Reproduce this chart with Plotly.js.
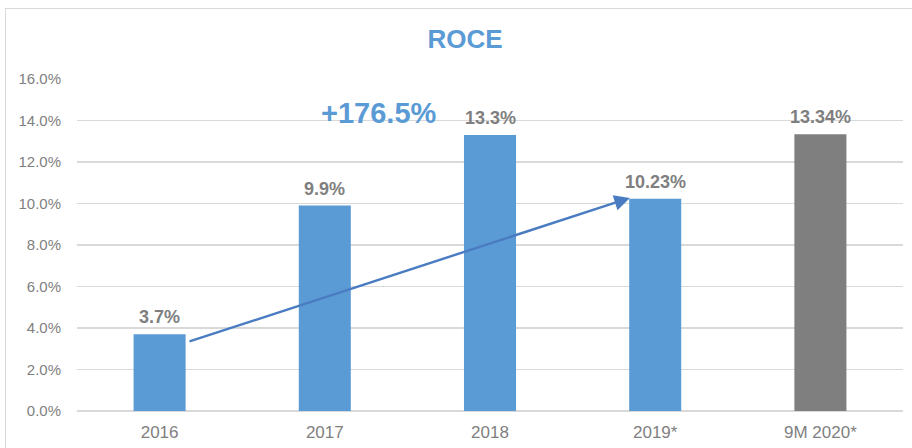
<!DOCTYPE html>
<html>
<head>
<meta charset="utf-8">
<script src="https://cdn.plot.ly/plotly-3.0.1.min.js"></script>
<style>
  html, body { margin: 0; padding: 0; background: #fff; }
  #wrap { position: relative; width: 912px; height: 448px; overflow: hidden; }
  #chart { width: 912px; height: 448px; }
  #frame { position: absolute; left: 5px; top: 8px; width: 930px; height: 470px;
           border: 1.5px solid #d9d9d9; pointer-events: none; }
</style>
</head>
<body>
<div id="wrap"><div id="chart"></div><div id="frame"></div></div>
<script>
const categories = ["2016", "2017", "2018", "2019*", "9M 2020*"];
const values = [3.7, 9.9, 13.3, 10.23, 13.34];
const labels = ["3.7%", "9.9%", "13.3%", "10.23%", "13.34%"];
const barColors = ["#5B9BD5", "#5B9BD5", "#5B9BD5", "#5B9BD5", "#7F7F7F"];
const growthText = "+176.5%";
const yTicks = [0, 2, 4, 6, 8, 10, 12, 14, 16];

const FONT = "Liberation Sans, Arial, sans-serif";

const trace = {
  type: "bar",
  x: categories.map((_, i) => i),
  y: values,
  marker: { color: barColors },
  width: 0.315,
  hoverinfo: "skip"
};

const labelAnnotations = values.map((v, i) => ({
  x: i, y: v, xref: "x", yref: "y",
  text: "<b>" + labels[i] + "</b>", showarrow: false,
  xanchor: "center", yanchor: "bottom", yshift: 5,
  font: { family: FONT, size: 18, color: "#7F7F7F" }
}));

const layout = {
  width: 912, height: 448,
  margin: { l: 77, r: 9, t: 79, b: 37 },
  paper_bgcolor: "#ffffff",
  plot_bgcolor: "#ffffff",
  showlegend: false,
  title: {
    text: "<b>ROCE</b>",
    font: { family: FONT, size: 26, color: "#5B9BD5" },
    xref: "container", yref: "container",
    x: 465 / 912, xanchor: "center",
    y: 1 - 38.5 / 448, yanchor: "middle"
  },
  xaxis: {
    type: "linear",
    range: [-0.5, 4.5],
    tickvals: categories.map((_, i) => i),
    ticktext: categories,
    showgrid: false,
    zeroline: false,
    showline: false,
    ticks: "",
    ticklabelstandoff: 9,
    tickfont: { family: FONT, size: 17, color: "#7F7F7F" },
    fixedrange: true
  },
  yaxis: {
    range: [0, 16],
    tickvals: yTicks,
    ticktext: yTicks.map(v => v.toFixed(1) + "%"),
    showgrid: true,
    gridcolor: "#D9D9D9",
    gridwidth: 1.3,
    zeroline: true,
    zerolinecolor: "#D9D9D9",
    zerolinewidth: 1.3,
    showline: false,
    ticks: "",
    ticklabelstandoff: 15,
    tickfont: { family: FONT, size: 15, color: "#7F7F7F" },
    fixedrange: true
  },
  annotations: labelAnnotations.concat([
    {
      // growth arrow from the 2016 bar towards the 2019 bar
      x: 3 - 0.153, y: values[3] + 0.04,
      ax: 0 + 0.172, ay: values[0] - 0.37,
      xref: "x", yref: "y", axref: "x", ayref: "y",
      text: "", showarrow: true,
      arrowhead: 2, arrowsize: 1.3, arrowwidth: 2.4,
      arrowcolor: "#4A7CC2", standoff: 0, startstandoff: 0
    },
    {
      x: 1.328, y: 14.36, xref: "x", yref: "y",
      text: "<b>" + growthText + "</b>", showarrow: false,
      xanchor: "center", yanchor: "middle",
      font: { family: FONT, size: 29, color: "#5B9BD5" }
    }
  ])
};

Plotly.newPlot("chart", [trace], layout, { displayModeBar: false, staticPlot: true });
</script>
</body>
</html>
